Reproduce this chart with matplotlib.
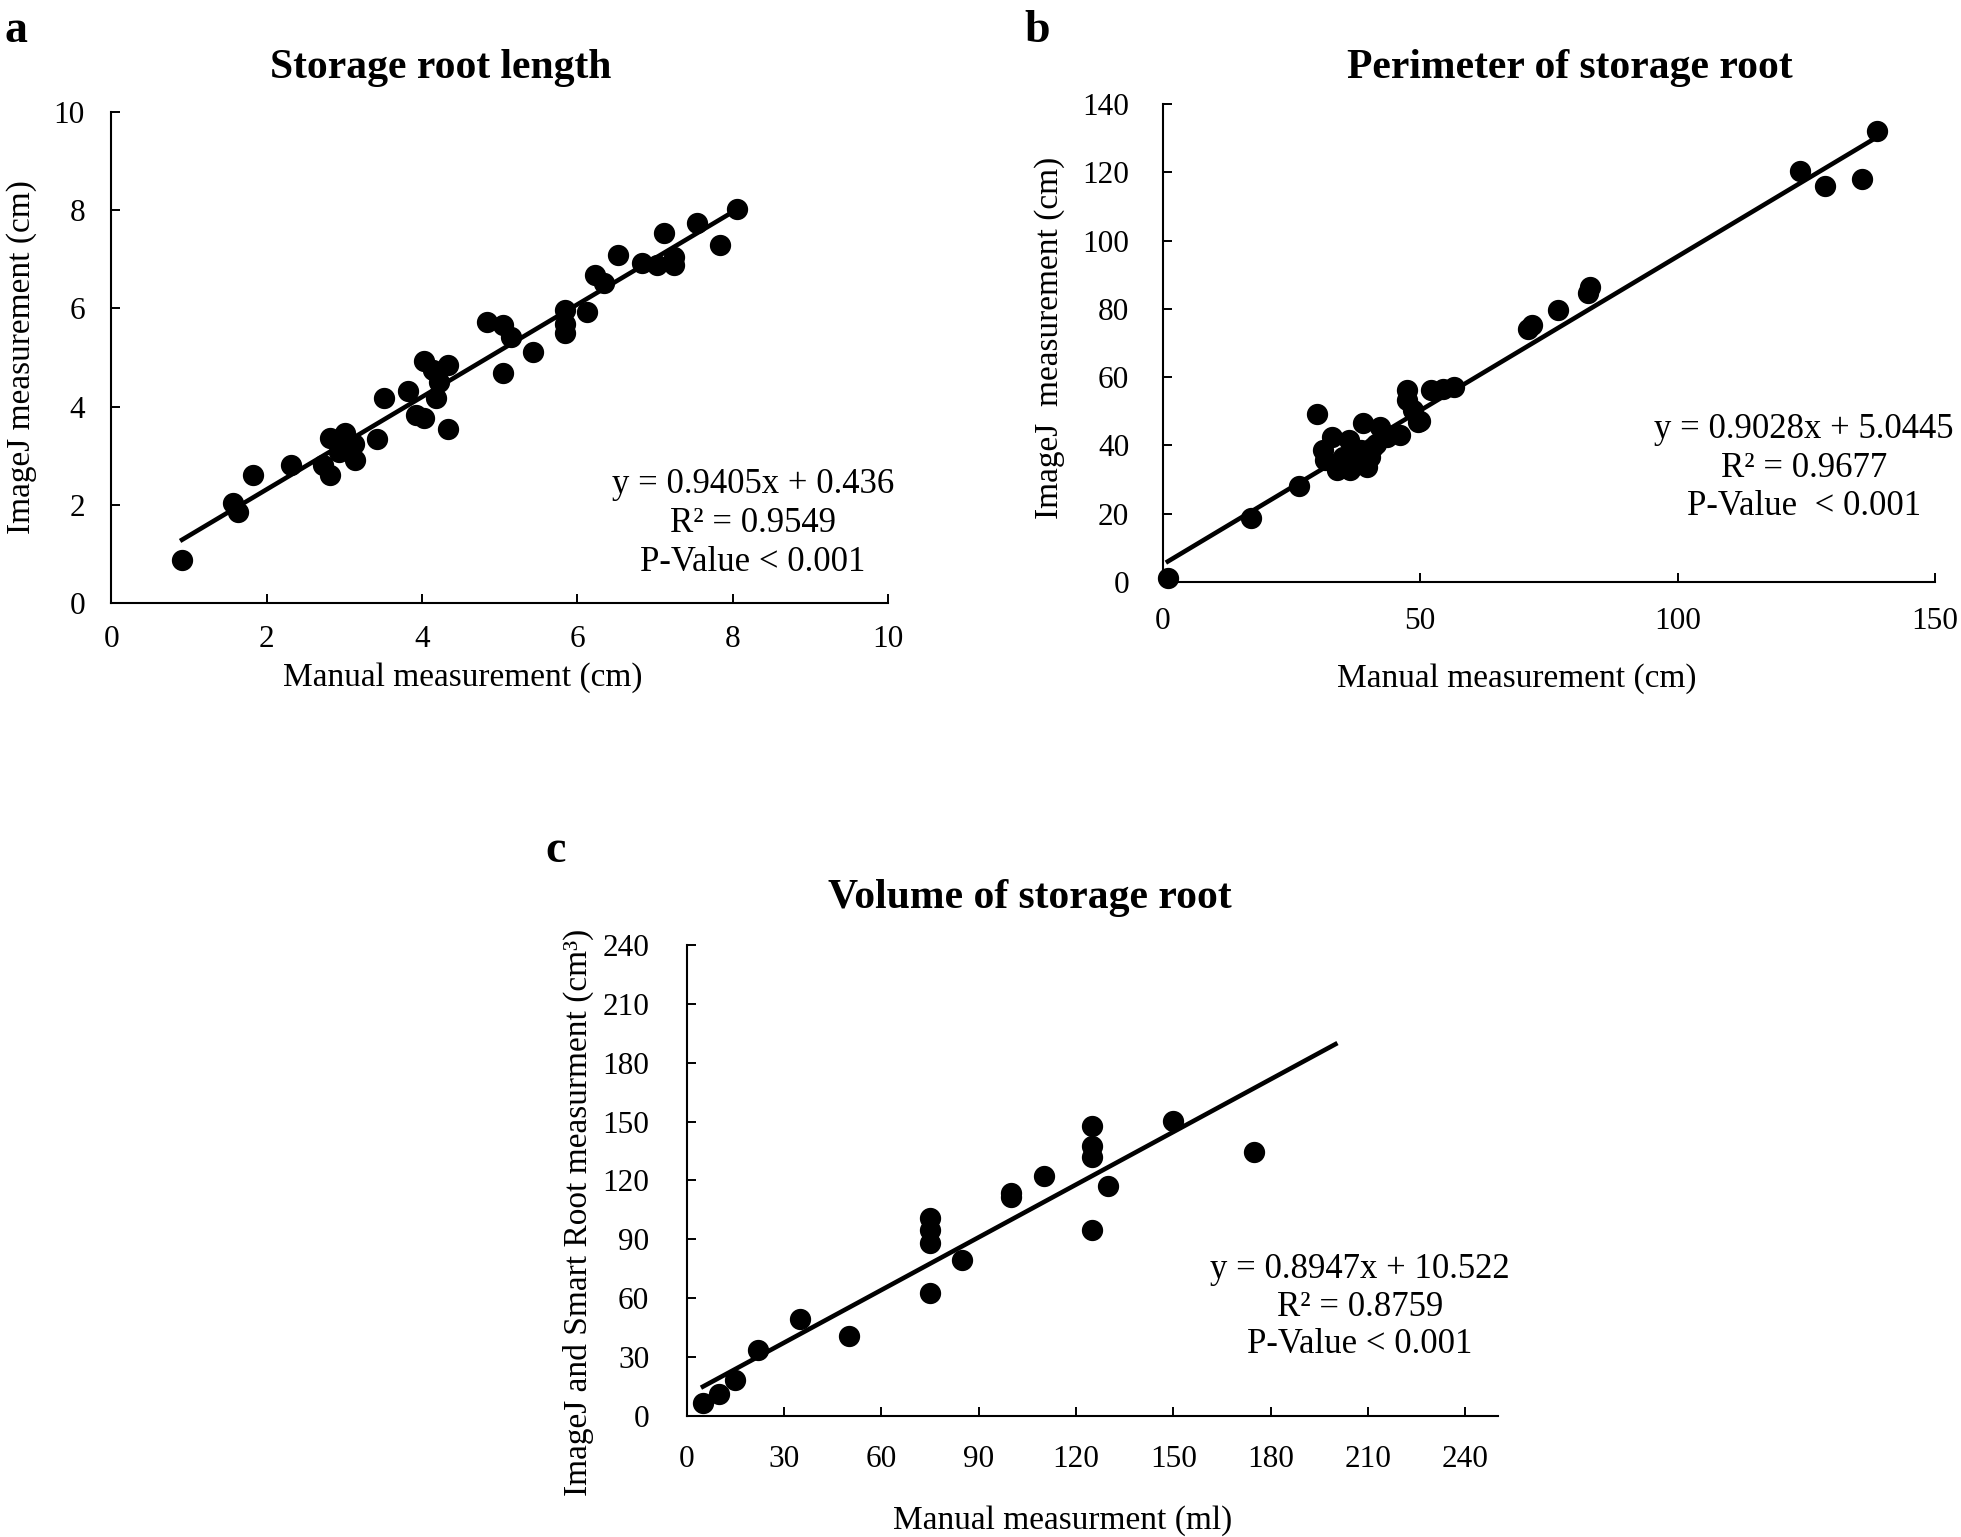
import numpy as np
import matplotlib.pyplot as plt

plt.rcParams['font.family'] = ['Liberation Serif', 'DejaVu Serif']

# a - storage root length (cm)
len_manual = [0.91, 1.57, 1.63, 1.82, 2.31, 2.73, 2.82, 2.82, 2.93, 3.01, 3.13, 3.14,
              3.42, 3.51, 3.82, 3.92, 4.03, 4.02, 4.14, 4.18, 4.22, 4.34, 4.34, 4.84,
              5.04, 5.14, 5.04, 5.43, 5.84, 5.84, 5.84, 6.13, 6.23, 6.35, 6.53, 6.83,
              7.03, 7.12, 7.24, 7.24, 7.54, 7.84, 8.05]
len_imagej = [0.88, 2.03, 1.86, 2.61, 2.81, 2.81, 3.36, 2.61, 3.08, 3.46, 3.25, 2.92,
              3.34, 4.17, 4.31, 3.83, 3.76, 4.92, 4.75, 4.17, 4.50, 4.85, 3.54, 5.73,
              5.66, 5.42, 4.69, 5.12, 5.97, 5.69, 5.49, 5.93, 6.68, 6.51, 7.08, 6.92,
              6.88, 7.53, 7.05, 6.88, 7.73, 7.29, 8.03]

# b - perimeter (cm)
per_manual = [1, 17.2, 26.4, 29.9, 31.2, 31.5, 32.8, 33.8, 34.5, 35.1, 36.2, 36.4, 37.0,
              37.7, 38.5, 39.0, 39.6, 40.3, 40.9, 41.5, 42.2, 43.5, 46.1, 47.4, 47.4,
              48.7, 49.6, 50.0, 52.2, 54.5, 56.5, 70.9, 71.8, 76.7, 82.6, 83.1,
              123.8, 128.7, 135.8, 138.8]
per_imagej = [1, 18.6, 28.0, 49.3, 38.6, 35.7, 42.5, 32.7, 34.5, 36.6, 41.5, 32.7, 34.0,
              37.6, 38.5, 46.4, 33.7, 36.6, 39.6, 40.5, 45.4, 42.5, 43.0, 56.2, 53.3,
              50.3, 46.9, 47.0, 56.2, 56.4, 57.2, 74.2, 75.2, 79.6, 84.5, 86.5,
              120.4, 116.1, 117.9, 132.2]

# c - volume (ml vs cm3)
vol_manual = [5, 10, 15, 22, 35, 50, 75, 75, 75, 75, 85, 100, 100, 110,
              125, 125, 125, 125, 130, 150, 175]
vol_imagej = [6.8, 11.0, 18.3, 33.6, 49.2, 40.7, 100.9, 95.0, 88.2, 62.8, 79.7, 113.6,
              111.6, 122.5, 147.9, 137.7, 132.0, 95.0, 117.4, 150.1, 134.3]

fit_a = (0.9405, 0.436)
fit_b = (0.9028, 5.0445)
fit_c = (0.8947, 10.522)
trend_end_c = 200

stats_a = ['y = 0.9405x + 0.436', 'R² = 0.9549', 'P-Value < 0.001']
stats_b = ['y = 0.9028x + 5.0445', 'R² = 0.9677', 'P-Value  < 0.001']
stats_c = ['y = 0.8947x + 10.522', 'R² = 0.8759', 'P-Value < 0.001']

fig = plt.figure(figsize=(19.61, 15.37), dpi=100)

axa = fig.add_axes([0.0568, 0.6075, 0.3960, 0.3198])
axb = fig.add_axes([0.5929, 0.6215, 0.3938, 0.3108])
axc = fig.add_axes([0.3502, 0.0787, 0.4135, 0.3065])


def panel(ax, x, y, fit, x_end, stats, sx, sy, xpad, ypad):
    ax.scatter(x, y, s=205, color='black', zorder=3, clip_on=False)
    xs = np.array([min(x), x_end])
    ax.plot(xs, fit[0] * xs + fit[1], color='black', lw=3.3, zorder=2)
    for s in ['top', 'right']:
        ax.spines[s].set_visible(False)
    for s in ['left', 'bottom']:
        ax.spines[s].set_linewidth(1.5)
    ax.tick_params(direction='in', length=6.7, width=1.4, labelsize=22.5)
    ax.tick_params(axis='x', pad=xpad)
    ax.tick_params(axis='y', pad=ypad)
    for i, line in enumerate(stats):
        ax.text(sx, sy - (i - 1) * 0.08, line, transform=ax.transAxes,
                ha='center', va='baseline', fontsize=25)


panel(axa, len_manual, len_imagej, fit_a, max(len_manual), stats_a, 0.826, 0.145, 16, 19)
axa.set_xlim(0, 10)
axa.set_ylim(0, 10)
axa.set_xticks(range(0, 11, 2))
axa.set_yticks(range(0, 11, 2))
axa.set_xlabel('Manual measurement (cm)', fontsize=24)
axa.set_ylabel('ImageJ measurement (cm)', fontsize=24, va='center')
axa.xaxis.set_label_coords(0.453, -0.119)
axa.yaxis.set_label_coords(-0.116, 0.5)

panel(axb, per_manual, per_imagej, fit_b, max(per_manual), stats_b, 0.830, 0.220, 18, 24)
axb.set_xlim(0, 150)
axb.set_ylim(0, 140)
axb.set_xticks(range(0, 151, 50))
axb.set_yticks(range(0, 141, 20))
axb.set_xlabel('Manual measurement (cm)', fontsize=24)
axb.set_ylabel('ImageJ  measurement (cm)', fontsize=24, va='center')
axb.xaxis.set_label_coords(0.459, -0.170)
axb.yaxis.set_label_coords(-0.146, 0.51)

panel(axc, vol_manual, vol_imagej, fit_c, trend_end_c, stats_c, 0.830, 0.213, 21, 27)
axc.set_xlim(0, 250)
axc.set_ylim(0, 240)
axc.set_xticks(range(0, 241, 30))
axc.set_yticks(range(0, 241, 30))
axc.set_xlabel('Manual measurment (ml)', fontsize=24)
axc.set_ylabel('ImageJ and Smart Root measurment (cm³)', fontsize=24, va='center')
axc.xaxis.set_label_coords(0.463, -0.189)
axc.yaxis.set_label_coords(-0.134, 0.432)

# titles and panel letters
fig.text(441 / 1961, 1 - 78 / 1537, 'Storage root length', ha='center', va='baseline',
         fontsize=30, fontweight='bold')
fig.text(1570 / 1961, 1 - 78 / 1537, 'Perimeter of storage root', ha='center', va='baseline',
         fontsize=30, fontweight='bold')
fig.text(1030 / 1961, 1 - 908 / 1537, 'Volume of storage root', ha='center', va='baseline',
         fontsize=30, fontweight='bold')
fig.text(4 / 1961, 1 - 42 / 1537, 'a', ha='left', va='baseline', fontsize=33, fontweight='bold')
fig.text(1024 / 1961, 1 - 42 / 1537, 'b', ha='left', va='baseline', fontsize=33, fontweight='bold')
fig.text(545 / 1961, 1 - 862 / 1537, 'c', ha='left', va='baseline', fontsize=33, fontweight='bold')

fig.savefig('out.png', dpi=100)
